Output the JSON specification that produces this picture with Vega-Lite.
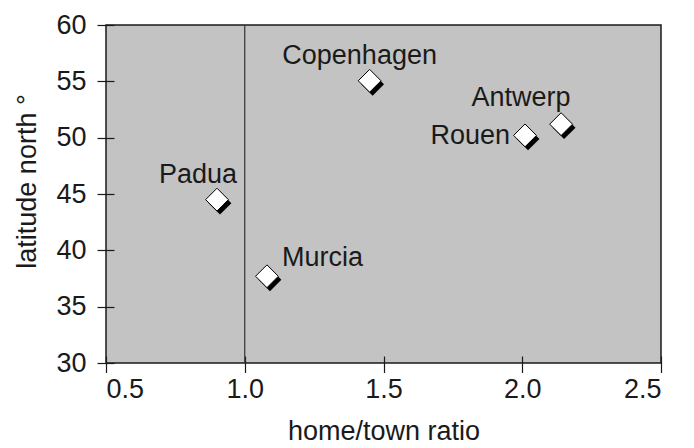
{
  "$schema": "https://vega.github.io/schema/vega-lite/v6.json",
  "autosize": "none",
  "padding": {"left": 106, "top": 25, "right": 33, "bottom": 85},
  "width": 555,
  "height": 338,
  "background": "white",
  "config": {
    "view": {"fill": "#c3c3c3", "stroke": "#1a1a1a", "strokeWidth": 1.5},
    "font": "Liberation Sans",
    "axis": {
      "grid": false,
      "domain": false,
      "tickColor": "#1a1a1a",
      "tickWidth": 1.2,
      "labelFont": "Liberation Sans",
      "labelFontSize": 27,
      "labelColor": "#1a1a1a",
      "titleFont": "Liberation Sans",
      "titleFontSize": 27,
      "titleFontWeight": "normal",
      "titleColor": "#1a1a1a"
    }
  },
  "datasets": {
    "cities": [
      {"city": "Padua", "ratio": 0.90, "lat": 44.5},
      {"city": "Murcia", "ratio": 1.08, "lat": 37.7},
      {"city": "Copenhagen", "ratio": 1.45, "lat": 55.05},
      {"city": "Rouen", "ratio": 2.01, "lat": 50.2},
      {"city": "Antwerp", "ratio": 2.14, "lat": 51.2}
    ]
  },
  "data": {"name": "cities"},
  "encoding": {
    "x": {
      "field": "ratio", "type": "quantitative",
      "scale": {"domain": [0.5, 2.5], "nice": false, "zero": false},
      "axis": {"values": [0.5, 1.0, 1.5, 2.0, 2.5], "format": ".1f", "offset": -7, "tickSize": 16.5, "labelPadding": 4, "title": "home/town ratio", "titlePadding": 16}
    },
    "y": {
      "field": "lat", "type": "quantitative",
      "scale": {"domain": [30, 60], "nice": false, "zero": false},
      "axis": {"values": [30, 35, 40, 45, 50, 55, 60], "offset": -8, "tickSize": 17, "labelPadding": 11, "title": "latitude north °", "titlePadding": 14, "titleY": 156}
    }
  },
  "layer": [
    {
      "data": {"values": [{"ratio": 1.0}]},
      "mark": {"type": "rule", "color": "#333333", "strokeWidth": 1.2},
      "encoding": {"x": {"field": "ratio", "type": "quantitative"}, "y": null}
    },
    {
      "mark": {"type": "point", "shape": "diamond", "filled": true, "color": "#000000", "opacity": 1, "size": 520, "xOffset": 3, "yOffset": 3.5}
    },
    {
      "mark": {"type": "point", "shape": "diamond", "filled": true, "fill": "#ffffff", "stroke": "#000000", "strokeWidth": 1, "opacity": 1, "size": 520}
    },
    {
      "transform": [{"filter": "datum.city === 'Padua'"}],
      "mark": {"type": "text", "fontSize": 27, "color": "#1a1a1a", "align": "center", "baseline": "alphabetic", "dx": -19, "dy": -17},
      "encoding": {"text": {"field": "city"}}
    },
    {
      "transform": [{"filter": "datum.city === 'Copenhagen'"}],
      "mark": {"type": "text", "fontSize": 27, "color": "#1a1a1a", "align": "center", "baseline": "alphabetic", "dx": -10, "dy": -17},
      "encoding": {"text": {"field": "city"}}
    },
    {
      "transform": [{"filter": "datum.city === 'Murcia'"}],
      "mark": {"type": "text", "fontSize": 27, "color": "#1a1a1a", "align": "left", "baseline": "alphabetic", "dx": 15, "dy": -10},
      "encoding": {"text": {"field": "city"}}
    },
    {
      "transform": [{"filter": "datum.city === 'Antwerp'"}],
      "mark": {"type": "text", "fontSize": 27, "color": "#1a1a1a", "align": "center", "baseline": "alphabetic", "dx": -40, "dy": -18},
      "encoding": {"text": {"field": "city"}}
    },
    {
      "transform": [{"filter": "datum.city === 'Rouen'"}],
      "mark": {"type": "text", "fontSize": 27, "color": "#1a1a1a", "align": "right", "baseline": "alphabetic", "dx": -15, "dy": 9},
      "encoding": {"text": {"field": "city"}}
    }
  ]
}
